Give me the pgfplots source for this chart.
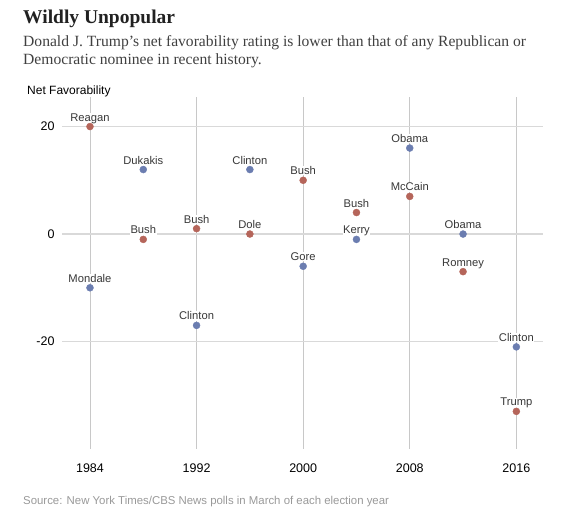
\documentclass[border=0pt]{standalone}
\usepackage{pgfplots}
\pgfplotsset{compat=1.18}
\usepackage{fontspec}
\setmainfont{Liberation Sans}
\newfontfamily\serif{Liberation Serif}
\definecolor{rep}{HTML}{B5655A}
\definecolor{dem}{HTML}{6B7DB0}
\definecolor{gridv}{HTML}{C8C8C8}
\definecolor{gridh}{HTML}{D9D9D9}
\definecolor{lbl}{HTML}{383838}

\pgfplotstableread{
year val name
1984 20 Reagan
1988 -1 Bush
1992 1 Bush
1996 0 Dole
2000 10 Bush
2004 4 Bush
2008 7 McCain
2012 -7 Romney
2016 -33 Trump
}\reptable

\pgfplotstableread{
year val name
1984 -10 Mondale
1988 12 Dukakis
1992 -17 Clinton
1996 12 Clinton
2000 -6 Gore
2004 -1 Kerry
2008 16 Obama
2012 0 Obama
2016 -21 Clinton
}\demtable

\begin{document}
\begin{tikzpicture}[x=1pt,y=1pt]
\path (0,0) rectangle (563,519);
\node[anchor=base west, inner sep=0, font={\serif\bfseries\fontsize{19.5}{22}\selectfont}, text=black!87] at (23,495) {Wildly Unpopular};
\node[anchor=base west, inner sep=0, font={\serif\fontsize{15.6}{18}\selectfont}, text=black!75] at (23,472) {Donald J. Trump’s net favorability rating is lower than that of any Republican or};
\node[anchor=base west, inner sep=0, font={\serif\fontsize{15.6}{18}\selectfont}, text=black!75] at (23,454) {Democratic nominee in recent history.};
\node[anchor=base west, inner sep=0, font={\fontsize{12}{14}\selectfont}, text=black] at (27,424) {Net Favorability};
\node[anchor=base west, inner sep=0, font={\fontsize{11.4}{14}\selectfont}, text=black!40] at (23,14) {Source: New York Times/CBS News polls in March of each election year};
\begin{axis}[
  at={(62pt,70pt)}, anchor=south west,
  scale only axis, width=481pt, height=352pt,
  xmin=1981.9, xmax=2018, ymin=-40, ymax=25.5,
  axis line style={draw=none},
  tick style={draw=none},
  xtick={1984,1992,2000,2008,2016},
  ytick={-20,0,20},
  xticklabel style={font={\fontsize{12.5}{14}\selectfont}, yshift=-11pt},
  yticklabel style={font={\fontsize{12.5}{14}\selectfont}, anchor=east, xshift=-4pt},
  /pgf/number format/assume math mode=true,
  xticklabel={\pgfmathprintnumber[1000 sep={}]{\tick}},
  yticklabel={\pgfmathprintnumber{\tick}},
  xmajorgrids, ymajorgrids,
  x grid style={gridv, line width=0.8pt},
  y grid style={gridh, line width=1.3pt},
  clip=false,
  label nodes/.style={nodes near coords, point meta=explicit symbolic,
    every node near coord/.style={anchor=base, font={\fontsize{11.2}{13}\selectfont}, text=lbl, fill=white, inner sep=0.5pt, yshift=5.5pt}},
]
% labels first (white halo), then dots on top
\addplot[only marks, mark=none, draw=none, label nodes] table[x=year, y=val, meta=name] {\reptable};
\addplot[only marks, mark=none, draw=none, label nodes] table[x=year, y=val, meta=name] {\demtable};
\addplot[only marks, color=rep, mark=*, mark size=3.5pt, mark options={draw=rep, fill=rep}] table[x=year, y=val] {\reptable};
\addplot[only marks, color=dem, mark=*, mark size=3.5pt, mark options={draw=dem, fill=dem}] table[x=year, y=val] {\demtable};
\end{axis}
\end{tikzpicture}
\end{document}
